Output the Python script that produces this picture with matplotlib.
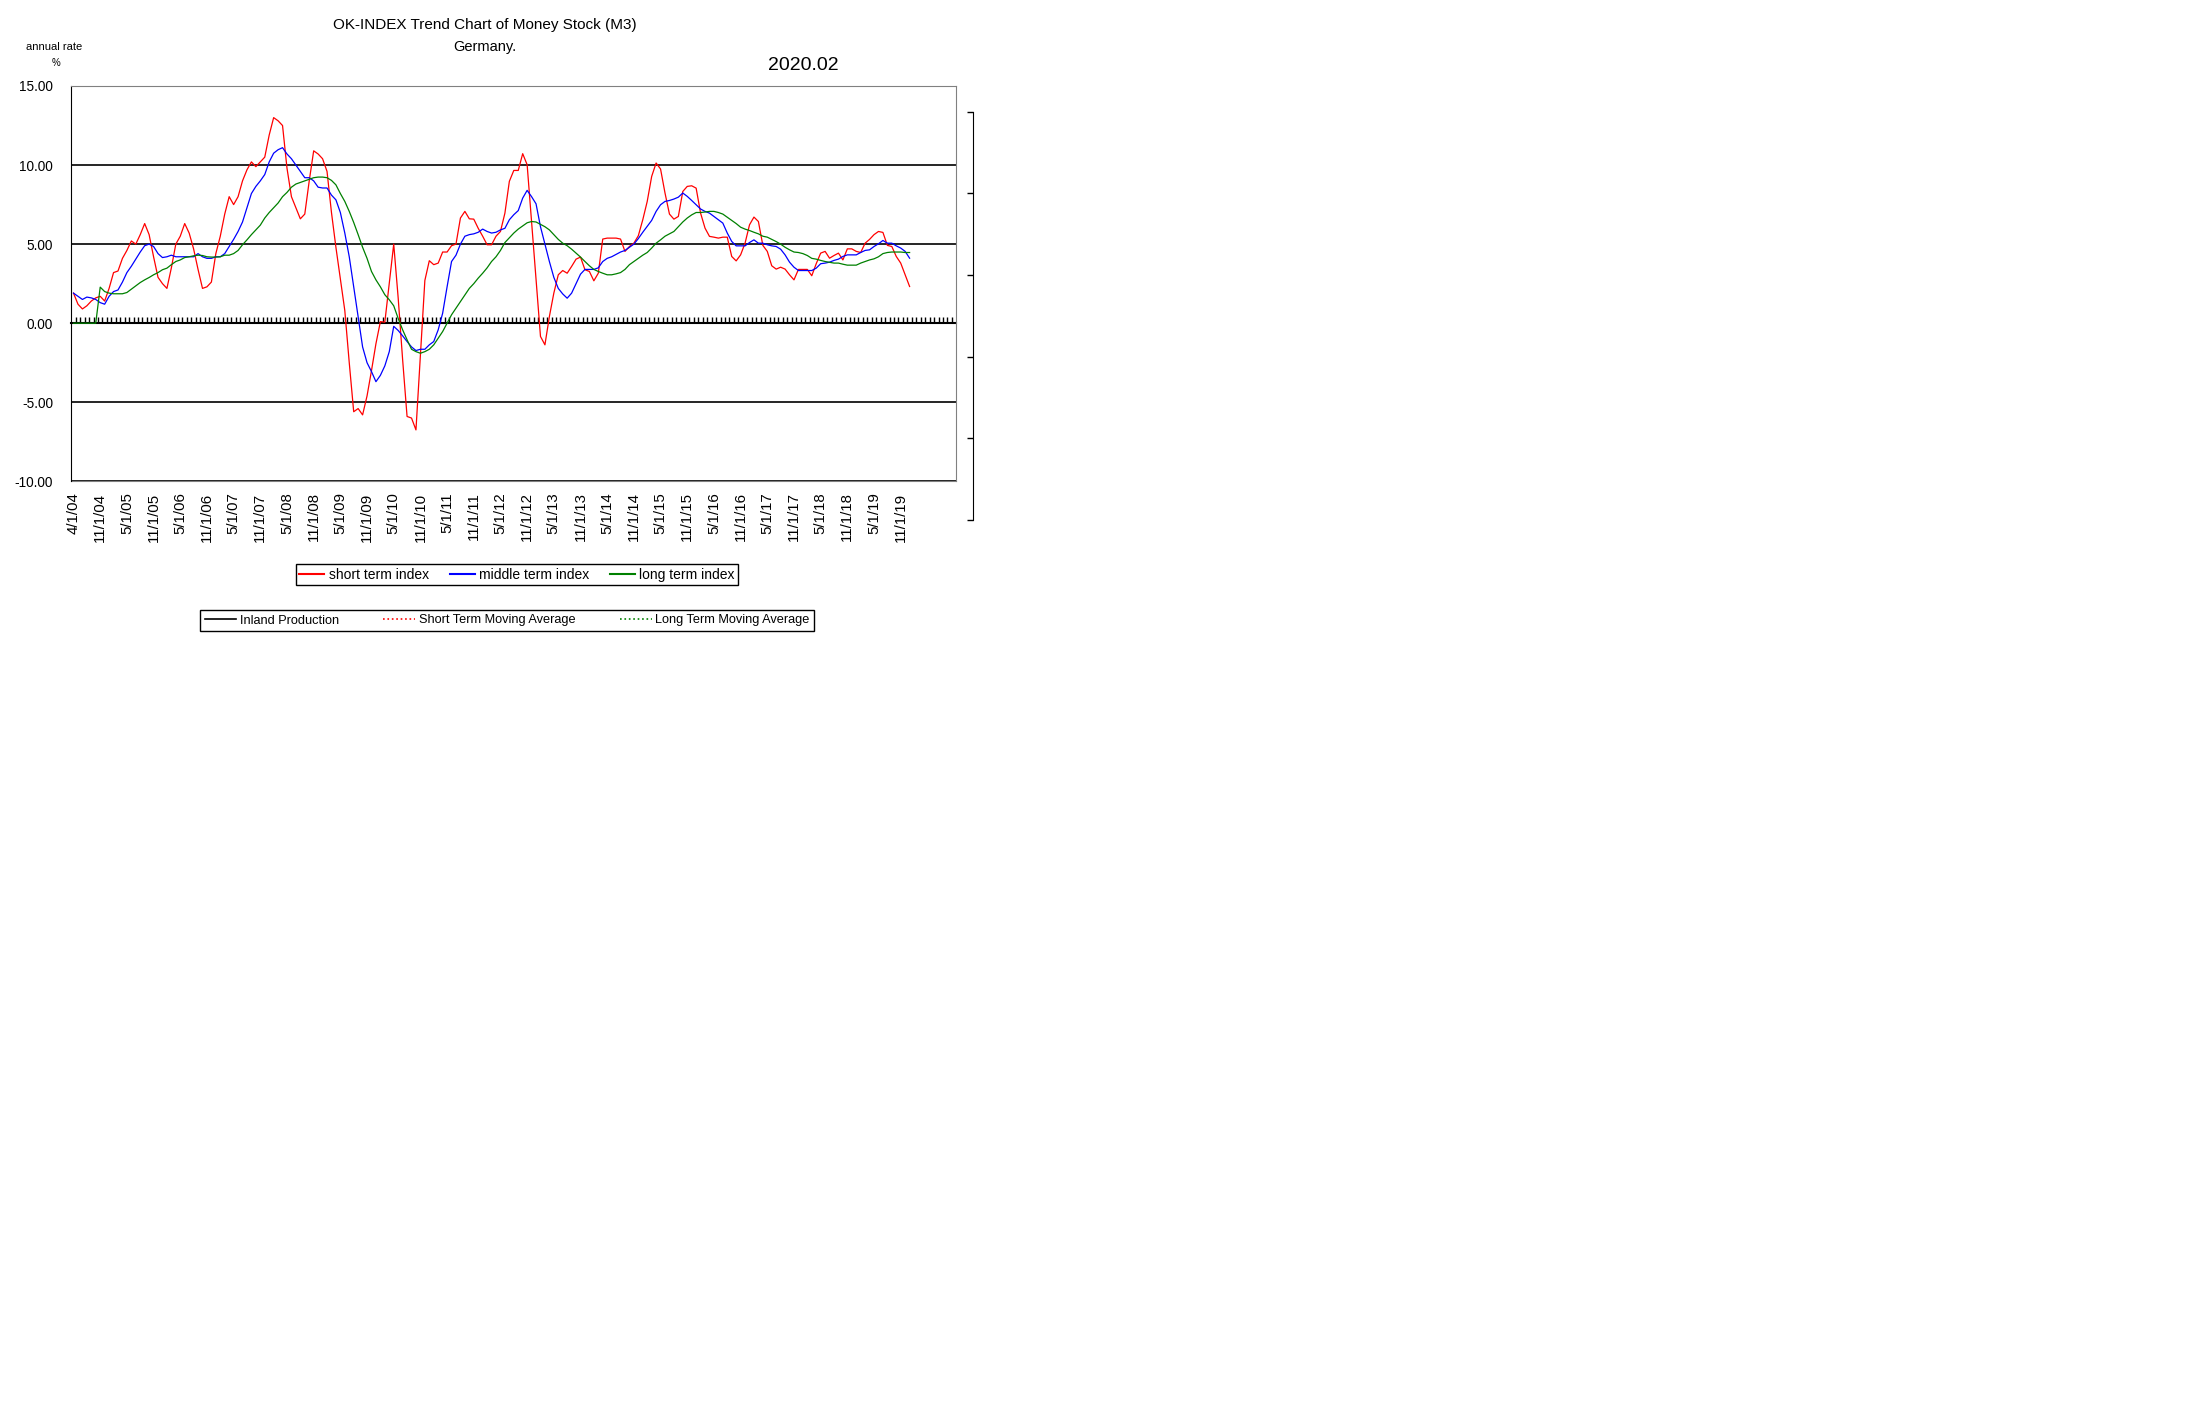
import matplotlib
matplotlib.use("Agg")
import matplotlib.pyplot as plt
from matplotlib.lines import Line2D

plt.rcParams['font.family'] = ['Liberation Sans', 'DejaVu Sans']

# monthly index values, 4/2004 .. 1/2020 (annual rate, %)
short_term = [
    1.9, 1.2, 0.9, 1.1, 1.4, 1.6, 1.7, 1.4, 2.2, 3.2, 3.3, 4.1,
    4.6, 5.2, 5.0, 5.6, 6.3, 5.6, 4.2, 2.9, 2.5, 2.2, 3.5, 5.0,
    5.5, 6.3, 5.7, 4.7, 3.4, 2.2, 2.3, 2.6, 4.4, 5.5, 6.9, 8.0,
    7.5, 8.0, 9.0, 9.7, 10.2, 9.9, 10.2, 10.5, 11.9, 13.0, 12.8, 12.5,
    9.8, 8.0, 7.3, 6.6, 6.9, 9.0, 10.9, 10.7, 10.4, 9.6, 7.0, 4.8,
    2.8, 0.8, -2.5, -5.6, -5.4, -5.8, -4.6, -3.0, -1.3, 0.1, 0.06, 2.5,
    5.0, 1.6, -2.3, -5.9, -6.0, -6.75, -2.0, 2.7, 3.95, 3.7, 3.8, 4.5,
    4.5, 4.9, 5.0, 6.65, 7.07, 6.6, 6.58, 6.0, 5.5, 4.96, 4.96, 5.5,
    5.8, 6.96, 8.97, 9.66, 9.66, 10.72, 10.02, 6.4, 2.8, -0.84, -1.37, 0.42,
    1.9, 3.06, 3.33, 3.16, 3.59, 4.05, 4.18, 3.38, 3.27, 2.68, 3.16, 5.32,
    5.38, 5.38, 5.38, 5.32, 4.54, 4.85, 5.06, 5.53, 6.54, 7.70, 9.28, 10.13,
    9.75, 8.23, 6.90, 6.58, 6.75, 8.33, 8.65, 8.69, 8.54, 6.96, 6.01, 5.49,
    5.44, 5.38, 5.44, 5.44, 4.22, 3.94, 4.32, 5.06, 6.22, 6.71, 6.43, 4.92,
    4.54, 3.63, 3.42, 3.54, 3.42, 3.06, 2.74, 3.4, 3.4, 3.4, 3.0, 3.76,
    4.43, 4.54, 4.11, 4.28, 4.43, 4.0, 4.7, 4.7, 4.54, 4.47, 5.06, 5.3,
    5.6, 5.8, 5.74, 4.92, 4.85, 4.22, 3.8, 3.06, 2.32,
]
middle_term = [
    1.9, 1.7, 1.5, 1.65, 1.6, 1.5, 1.3, 1.2, 1.7, 2.0, 2.1, 2.6,
    3.2, 3.6, 4.05, 4.5, 4.9, 5.0, 4.85, 4.4, 4.15, 4.2, 4.3, 4.2,
    4.2, 4.2, 4.2, 4.2, 4.4, 4.2, 4.1, 4.1, 4.2, 4.2, 4.4, 4.85,
    5.3, 5.8, 6.4, 7.3, 8.2, 8.65, 9.0, 9.4, 10.2, 10.75, 10.97, 11.1,
    10.7, 10.4, 10.0, 9.6, 9.2, 9.2, 9.0, 8.6, 8.55, 8.55, 8.1, 7.8,
    7.0, 5.7, 4.2, 2.3, 0.4, -1.5, -2.5, -3.06, -3.7, -3.3, -2.7, -1.8,
    -0.2, -0.46, -0.8, -1.16, -1.5, -1.73, -1.65, -1.65, -1.37, -1.16, -0.42, 0.63,
    2.3, 3.9, 4.3, 5.0, 5.5, 5.6, 5.65, 5.75, 5.95, 5.8, 5.7, 5.75,
    5.9, 6.0, 6.54, 6.86, 7.12, 7.91, 8.4, 8.0, 7.55, 6.1, 5.0, 3.9,
    2.9, 2.2, 1.85, 1.58, 1.9, 2.5, 3.1, 3.4, 3.4, 3.4, 3.5, 3.9,
    4.1, 4.2, 4.35, 4.5, 4.6, 4.8, 5.0, 5.35, 5.75, 6.12, 6.5, 7.07,
    7.49, 7.7, 7.76, 7.85, 7.97, 8.23, 8.02, 7.76, 7.49, 7.22, 7.07, 6.96,
    6.75, 6.54, 6.33, 5.7, 5.17, 4.89, 4.89, 4.89, 5.1, 5.27, 5.06, 5.06,
    4.96, 4.89, 4.85, 4.68, 4.32, 3.86, 3.54, 3.33, 3.33, 3.33, 3.33, 3.48,
    3.76, 3.8, 3.86, 3.97, 4.05, 4.22, 4.32, 4.32, 4.32, 4.47, 4.6, 4.64,
    4.85, 5.02, 5.23, 5.06, 5.06, 4.89, 4.75, 4.54, 4.11,
]
long_term = [
    0, 0, 0, 0, 0, 0, 2.28, 2.0, 1.9, 1.86, 1.86, 1.86,
    1.94, 2.15, 2.36, 2.57, 2.74, 2.89, 3.06, 3.2, 3.38, 3.48, 3.7, 3.9,
    4.0, 4.15, 4.2, 4.26, 4.3, 4.28, 4.2, 4.18, 4.18, 4.2, 4.3, 4.3,
    4.4, 4.6, 4.96, 5.27, 5.6, 5.9, 6.2, 6.65, 7.0, 7.3, 7.6, 8.0,
    8.27, 8.6, 8.8, 8.9, 9.0, 9.1, 9.2, 9.24, 9.24, 9.2, 9.03, 8.75,
    8.2, 7.7, 7.07, 6.37, 5.6, 4.8, 4.1, 3.27, 2.74, 2.3, 1.8, 1.48,
    1.1, 0.3, -0.42, -1.05, -1.65, -1.8, -1.9, -1.8, -1.65, -1.37, -0.95, -0.53,
    0.0, 0.53, 0.95, 1.37, 1.8, 2.2, 2.5, 2.85, 3.16, 3.5, 3.9, 4.2,
    4.6, 5.1, 5.4, 5.7, 5.95, 6.15, 6.35, 6.43, 6.4, 6.25, 6.1, 5.9,
    5.6, 5.3, 5.06, 4.9, 4.68, 4.43, 4.18, 3.9, 3.63, 3.4, 3.27, 3.16,
    3.06, 3.06, 3.12, 3.2, 3.4, 3.7, 3.9, 4.1, 4.3, 4.47, 4.75, 5.06,
    5.27, 5.5, 5.65, 5.8, 6.1, 6.4, 6.65, 6.85, 7.0, 7.0, 7.03, 7.07,
    7.07, 7.0, 6.9, 6.7, 6.5, 6.3, 6.07, 5.95, 5.86, 5.75, 5.65, 5.5,
    5.44, 5.3, 5.16, 5.0, 4.8, 4.64, 4.5, 4.47, 4.4, 4.28, 4.1, 4.05,
    3.97, 3.9, 3.85, 3.8, 3.8, 3.73, 3.67, 3.67, 3.67, 3.8, 3.9, 4.0,
    4.07, 4.2, 4.4, 4.47, 4.5, 4.5, 4.5, 4.47, 4.47,
]

n_categories = 199          # category slots on the axis (data fills the first 189)
label_step = 6
tick_labels = ['4/1/04', '11/1/04']
for yy in range(5, 20):
    tick_labels += ['5/1/%02d' % yy, '11/1/%02d' % yy]
y_ticks = [15, 10, 5, 0, -5, -10]

W, H = 2204, 1422
fig = plt.figure(figsize=(W / 100, H / 100), dpi=100)
ax = fig.add_axes([71.3 / W, 1 - 481.3 / H, (956.3 - 71.3) / W, (481.3 - 86) / H])

xs = list(range(len(short_term)))
l1, = ax.plot(xs, short_term, color='#ff0000', lw=0.9, zorder=3)
l2, = ax.plot(xs, middle_term, color='#0000ff', lw=0.9, zorder=4)
l3, = ax.plot(xs, long_term, color='#008000', lw=0.9, zorder=5)

ax.set_xlim(-0.5, n_categories - 0.5)
ax.set_ylim(min(y_ticks), max(y_ticks))
ax.set_yticks(y_ticks)
ax.set_yticklabels(['%.2f' % v for v in y_ticks])
ax.tick_params(axis='y', length=0, pad=13, labelsize=9.8)
ax.grid(axis='y', color='black', lw=1.2, zorder=1)

# category axis crosses at zero, tick marks between categories
ax.spines['bottom'].set_position(('data', 0))
ax.spines['bottom'].set_color('black')
ax.spines['bottom'].set_linewidth(1.5)
ax.spines['bottom'].set_zorder(2)
ax.set_xticks([i - 0.5 for i in range(1, n_categories)])
ax.tick_params(axis='x', direction='in', length=4, width=1, labelbottom=False)
for s in ('top', 'right'):
    ax.spines[s].set_color('#808080')
ax.spines['left'].set_color('black')

# date labels along the bottom edge
sec = ax.secondary_xaxis('bottom')
sec.set_xticks(list(range(0, len(tick_labels) * label_step, label_step)))
sec.set_xticklabels(tick_labels, rotation=90)
sec.tick_params(length=0, pad=8, labelsize=10.8)
sec.spines['bottom'].set_color('#808080')

# unlabeled right-hand scale
ax2 = fig.add_axes([972.7 / W, 1 - 520 / H, 0.0005, (520 - 111.7) / H])
ax2.patch.set_visible(False)
for s in ('top', 'right', 'bottom'):
    ax2.spines[s].set_visible(False)
ax2.set_ylim(0, 5)
ax2.set_yticks(range(6))
ax2.set_xticks([])
ax2.tick_params(axis='y', length=4.5, width=1, direction='out', labelleft=False)

fig.text(485 / W, 1 - 25 / H, 'OK-INDEX Trend Chart of Money Stock (M3)',
         ha='center', va='center', fontsize=11)
fig.text(485 / W, 1 - 47 / H, 'Germany.', ha='center', va='center', fontsize=10.5)
fig.text(803 / W, 1 - 66 / H, '2020.02', ha='center', va='center', fontsize=14)
fig.text(54.5 / W, 1 - 46.5 / H, 'annual rate', ha='center', va='center', fontsize=8)
fig.text(56.4 / W, 1 - 62.5 / H, '%', ha='center', va='center', fontsize=7)

leg1 = fig.legend([l1, l2, l3], ['short term index', 'middle term index', 'long term index'],
                  loc='center', bbox_to_anchor=(517 / W, 1 - 574.7 / H), ncol=3,
                  fancybox=False, edgecolor='black', framealpha=1, fontsize=10,
                  handlelength=1.8, handletextpad=0.3, columnspacing=1.5, borderpad=0.25)
leg1.get_frame().set_linewidth(1.0)
for h in leg1.legend_handles:
    h.set_linewidth(1.5)

extra = [Line2D([], [], color='black', lw=1.2),
         Line2D([], [], color='red', lw=1.2, ls=':'),
         Line2D([], [], color='green', lw=1.2, ls=':')]
leg2 = fig.legend(extra, ['Inland Production', 'Short Term Moving Average', 'Long Term Moving Average'],
                  loc='center', bbox_to_anchor=(507 / W, 1 - 620.5 / H), ncol=3,
                  fancybox=False, edgecolor='black', framealpha=1, fontsize=9.2,
                  handlelength=2.5, handletextpad=0.25, columnspacing=3.5, borderpad=0.35)
leg2.get_frame().set_linewidth(1.0)

fig.savefig('out.png', dpi=100)
